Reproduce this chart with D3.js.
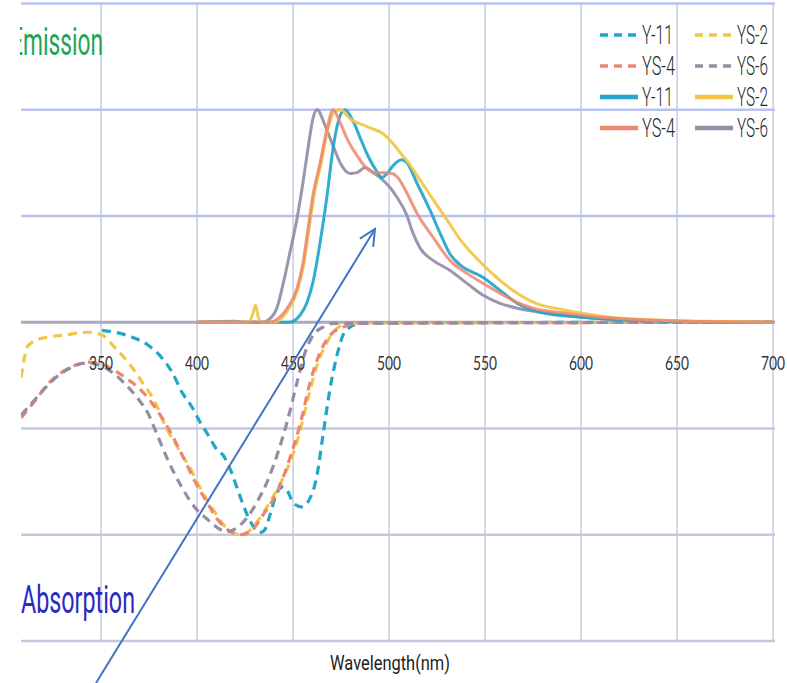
<!DOCTYPE html>
<html>
<head>
<meta charset="utf-8">
<script src="https://cdn.jsdelivr.net/npm/d3@7"></script>
<style>
  html, body { margin: 0; padding: 0; background: #fff; }
  svg { display: block; }
</style>
</head>
<body>
<svg id="chart" width="787" height="683"></svg>
<script>
// Series names and colours
const seriesNames = ["Y-11", "YS-2", "YS-4", "YS-6"];
const seriesColors = ["#1fa6c9", "#f4c443", "#ec8670", "#958ca6"];

// Axis ticks
const xTicks = [350, 400, 450, 500, 550, 600, 650, 700];
const yGrid = [-1.5, -1, -0.5, 0, 0.5, 1, 1.5];

// Normalised emission spectra: [wavelength nm, intensity]
const emY11 = [[400,0],[440,0],[448,0],[453.6,0.033],[457.3,0.094],[460.4,0.19],[464.1,0.376],[467.7,0.596],[470.8,0.817],[474.5,0.972],[477,1.0],[481.2,0.948],[484.9,0.869],[488.5,0.793],[492.7,0.723],[496.4,0.681],[499,0.70],[502.1,0.737],[506.5,0.765],[509.4,0.75],[514.6,0.653],[521.4,0.526],[526.6,0.418],[531.8,0.32],[537,0.27],[549,0.211],[557.8,0.15],[566.7,0.089],[578.6,0.047],[601,0.023],[627,0.01],[662,0.002],[700,0]];
const emYS2 = [[400,0],[427,0],[429,0.04],[430.5,0.08],[432,0.02],[434,0],[440,0],[447.5,0.06],[452.6,0.16],[455.7,0.28],[458.3,0.44],[461,0.60],[464.6,0.75],[468.2,0.91],[471.5,0.99],[474.5,1.0],[479.7,0.958],[490.1,0.915],[496.9,0.887],[502.1,0.84],[505.7,0.80],[510.9,0.74],[514.6,0.69],[519.8,0.62],[525,0.55],[531.8,0.46],[537,0.39],[549,0.27],[561.5,0.17],[575,0.095],[592.7,0.055],[610,0.03],[627,0.015],[662,0.005],[700,0]];
const emYS4 = [[400,0],[438,0],[441,0.01],[446.9,0.066],[452.1,0.16],[455.2,0.28],[457.8,0.44],[460.4,0.60],[464.1,0.75],[467.7,0.91],[470.8,1.0],[474.5,0.94],[478.1,0.864],[483.3,0.784],[488.5,0.723],[492.7,0.704],[497.9,0.704],[501.6,0.70],[505.7,0.667],[509.4,0.606],[514.6,0.512],[522.9,0.40],[531.8,0.29],[540.6,0.23],[549,0.183],[557.8,0.136],[566.7,0.094],[575,0.066],[592.7,0.042],[610,0.023],[627,0.014],[662,0.003],[700,0]];
const emYS6 = [[400,0],[420,0.005],[425,0],[434,0],[437,0.01],[441.7,0.07],[444.8,0.18],[448.4,0.33],[452.1,0.49],[455.2,0.66],[457.8,0.82],[460.4,0.96],[462.5,1.0],[466.7,0.925],[470.8,0.831],[474.5,0.751],[479.7,0.70],[483.3,0.704],[487.5,0.728],[491.7,0.704],[495.3,0.681],[500.5,0.634],[504.2,0.587],[509.4,0.50],[512,0.43],[516.1,0.35],[522.9,0.291],[531.8,0.244],[540.6,0.183],[549,0.127],[557.8,0.089],[566.7,0.066],[583.9,0.042],[601,0.023],[636,0.005],[700,0]];

// Normalised absorption spectra: [wavelength nm, absorbance] (drawn below zero)
const abY11 = [[350.5,0.038],[357.3,0.047],[366.1,0.07],[374.5,0.108],[381.8,0.169],[387,0.235],[392.2,0.33],[397.4,0.40],[401.6,0.47],[405.7,0.53],[410.4,0.60],[413.5,0.625],[417.2,0.69],[422.4,0.82],[427.6,0.935],[432.5,0.99],[435,0.98],[438,0.906],[441.7,0.80],[444.8,0.775],[447.4,0.798],[450,0.85],[454.7,0.869],[457.8,0.845],[462.5,0.718],[465.6,0.53],[469.3,0.31],[472.9,0.155],[476,0.061],[479.7,0.023],[485,0.003],[700,0]];
const abYS2 = [[308.3,0.26],[312,0.11],[319.3,0.075],[331.3,0.06],[343.2,0.047],[350.5,0.06],[357.3,0.12],[364.1,0.188],[371.4,0.282],[378.1,0.376],[383.3,0.484],[390.1,0.592],[397.4,0.704],[402.6,0.798],[407.8,0.873],[413.5,0.95],[418.8,0.99],[422.5,1.0],[426,0.99],[431.3,0.939],[438,0.845],[444.8,0.732],[452.1,0.563],[457.3,0.376],[462.5,0.202],[467.7,0.094],[472.9,0.028],[479.7,0.005],[700,0]];
const abYS4 = [[308.3,0.451],[315.6,0.37],[322.4,0.29],[329.7,0.235],[336.5,0.202],[343.2,0.188],[350.5,0.198],[357.3,0.228],[364.1,0.27],[371.4,0.325],[378.1,0.40],[384.9,0.498],[392.2,0.624],[399,0.751],[405.7,0.855],[410.4,0.925],[417.2,0.984],[422.4,1.0],[427.6,0.986],[434.4,0.906],[441.7,0.798],[448.4,0.638],[453.6,0.483],[458.9,0.282],[464.1,0.141],[469.3,0.061],[476,0.023],[483.3,0.005],[700,0]];
const abYS6 = [[308.3,0.437],[314,0.38],[320.8,0.31],[327.6,0.252],[334.9,0.211],[341.7,0.192],[348.4,0.20],[355.7,0.235],[362.5,0.29],[369.3,0.36],[374.5,0.43],[379.7,0.54],[384.9,0.65],[392.2,0.779],[399,0.873],[405.7,0.93],[412,0.975],[415.6,0.986],[420.8,0.967],[426,0.92],[431.3,0.845],[436.5,0.751],[441.7,0.624],[446.9,0.469],[452.1,0.282],[456.3,0.141],[460.4,0.061],[465.6,0.023],[470.8,0.005],[700,0]];

const emission = [emY11, emYS2, emYS4, emYS6];
const absorption = [abY11, abYS2, abYS4, abYS6];

const svg = d3.select("#chart");
const plot = { left: 21, right: 775 };

const x = d3.scaleLinear().domain([308.3, 701]).range([plot.left, plot.right]);
const y = d3.scaleLinear().domain([-1.5, 1.5]).range([641, 3.5]);

const defs = svg.append("defs");
defs.append("clipPath").attr("id", "plotClip")
  .append("rect").attr("x", plot.left).attr("y", 0)
  .attr("width", plot.right - plot.left).attr("height", 683);
defs.append("clipPath").attr("id", "titleClip")
  .append("rect").attr("x", 20).attr("y", 0).attr("width", 767).attr("height", 683);

const g = svg.append("g").attr("clip-path", "url(#plotClip)");

// Vertical grid
g.append("g").selectAll("line").data(xTicks).join("line")
  .attr("x1", d => x(d)).attr("x2", d => x(d))
  .attr("y1", y(1.5)).attr("y2", y(-1.5))
  .attr("stroke", "#c9cee8").attr("stroke-width", 1.6);

// Horizontal grid
g.append("g").selectAll("line").data(yGrid).join("line")
  .attr("x1", plot.left).attr("x2", plot.right)
  .attr("y1", d => y(d)).attr("y2", d => y(d))
  .attr("stroke", d => d === 0 ? "#a9a9bf" : (d < 0 ? "#c4c8dc" : "#b9c2ee"))
  .attr("stroke-width", d => d === 0 ? 3 : 2.6);

// Tick labels on the zero line
svg.append("g").selectAll("text").data(xTicks).join("text")
  .attr("x", d => x(d)).attr("y", 370)
  .attr("text-anchor", "middle")
  .attr("font-family", "Lato, 'Open Sans', sans-serif")
  .attr("font-size", 20)
  .attr("fill", "#333")
  .attr("textLength", 24).attr("lengthAdjust", "spacingAndGlyphs")
  .text(d => d);

const line = d3.line().x(d => x(d[0])).y(d => y(d[1])).curve(d3.curveMonotoneX);
const lineAbs = d3.line().x(d => x(d[0])).y(d => y(-d[1])).curve(d3.curveMonotoneX);

// Absorption (dashed)
g.append("g").selectAll("path").data(absorption).join("path")
  .attr("d", lineAbs)
  .attr("fill", "none")
  .attr("stroke", (d, i) => seriesColors[i])
  .attr("stroke-width", 3.2)
  .attr("stroke-dasharray", "9,6")
  .attr("stroke-linecap", "butt");

// Emission (solid)
const emOrder = [3, 0, 1, 2];
g.append("g").selectAll("path").data(emOrder).join("path")
  .attr("d", i => line(emission[i]))
  .attr("fill", "none")
  .attr("stroke", i => seriesColors[i])
  .attr("stroke-width", 3)
  .attr("stroke-opacity", i => i === 2 ? 0.85 : 0.92)
  .attr("stroke-linejoin", "round");

// Panel titles
svg.append("text")
  .attr("clip-path", "url(#titleClip)")
  .attr("x", 10).attr("y", 55)
  .attr("font-family", "Roboto, 'Liberation Sans', sans-serif")
  .attr("font-size", 38)
  .attr("fill", "#22a455")
  .attr("textLength", 93).attr("lengthAdjust", "spacingAndGlyphs")
  .text("Emission");
svg.append("text")
  .attr("x", 21).attr("y", 613)
  .attr("font-family", "Roboto, 'Liberation Sans', sans-serif")
  .attr("font-size", 38)
  .attr("fill", "#2a2ac4")
  .attr("textLength", 114).attr("lengthAdjust", "spacingAndGlyphs")
  .text("Absorption");

// Axis title
svg.append("text")
  .attr("x", 390).attr("y", 670)
  .attr("text-anchor", "middle")
  .attr("font-family", "Roboto, 'Liberation Sans', sans-serif")
  .attr("font-size", 21)
  .attr("fill", "#222")
  .attr("textLength", 120).attr("lengthAdjust", "spacingAndGlyphs")
  .text("Wavelength(nm)");

// Legend: absorption (dashed) rows then emission (solid) rows
const legendItems = [
  { s: 0, dashed: true, col: 0, row: 0 }, { s: 1, dashed: true, col: 1, row: 0 },
  { s: 2, dashed: true, col: 0, row: 1 }, { s: 3, dashed: true, col: 1, row: 1 },
  { s: 0, dashed: false, col: 0, row: 2 }, { s: 1, dashed: false, col: 1, row: 2 },
  { s: 2, dashed: false, col: 0, row: 3 }, { s: 3, dashed: false, col: 1, row: 3 }
];
const legendCols = [600, 695];
const legendRows = [35, 66, 97, 128];
const lg = svg.append("g").selectAll("g").data(legendItems).join("g")
  .attr("transform", d => `translate(${legendCols[d.col]},${legendRows[d.row]})`);
lg.append("line")
  .attr("x1", 0).attr("x2", 38).attr("y1", 0).attr("y2", 0)
  .attr("stroke", d => seriesColors[d.s])
  .attr("stroke-width", d => d.dashed ? 3.5 : 4.5)
  .attr("stroke-dasharray", d => d.dashed ? "8,6" : null);
lg.append("text")
  .attr("x", 42).attr("y", 9)
  .attr("font-family", "Roboto, 'Liberation Sans', sans-serif")
  .attr("font-weight", 300)
  .attr("font-size", 25)
  .attr("fill", "#2a2a2a")
  .attr("textLength", d => seriesNames[d.s] === "YS-4" ? 33 : 31)
  .attr("lengthAdjust", "spacingAndGlyphs")
  .text(d => seriesNames[d.s]);

// Annotation arrow pointing at the emission band
const arrowColor = "#4472c4";
const arrowFrom = [96, 683], arrowTo = [375, 229];
svg.append("line")
  .attr("x1", arrowFrom[0]).attr("y1", arrowFrom[1])
  .attr("x2", arrowTo[0]).attr("y2", arrowTo[1])
  .attr("stroke", arrowColor).attr("stroke-width", 2);
const ang = Math.atan2(arrowTo[1] - arrowFrom[1], arrowTo[0] - arrowFrom[0]);
const headLen = 18, spread = 0.45;
svg.append("path")
  .attr("d", `M${arrowTo[0] - headLen * Math.cos(ang - spread)},${arrowTo[1] - headLen * Math.sin(ang - spread)} L${arrowTo[0]},${arrowTo[1]} L${arrowTo[0] - headLen * Math.cos(ang + spread)},${arrowTo[1] - headLen * Math.sin(ang + spread)}`)
  .attr("fill", "none").attr("stroke", arrowColor).attr("stroke-width", 2)
  .attr("stroke-linejoin", "miter");
</script>
</body>
</html>
